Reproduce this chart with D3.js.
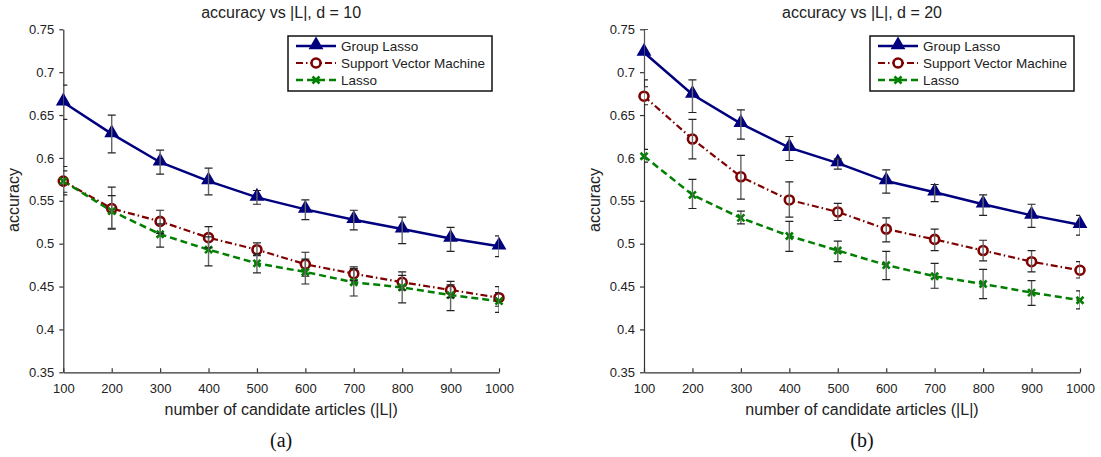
<!DOCTYPE html>
<html>
<head>
<meta charset="utf-8">
<script src="https://cdn.jsdelivr.net/npm/d3@7"></script>
<style>
  body { margin: 0; background: #fff; }
  svg { font-family: "Liberation Sans", Arial, sans-serif; }
</style>
</head>
<body>
<div id="chart"></div>
<script>
var svgWidth = 1101;
var svgHeight = 457;

// candidate set sizes |L|
var sizes = [100, 200, 300, 400, 500, 600, 700, 800, 900, 1000];
var yTicks = [0.35, 0.4, 0.45, 0.5, 0.55, 0.6, 0.65, 0.7, 0.75];
var seriesNames = ["Group Lasso", "Support Vector Machine", "Lasso"];

// panel (a): d = 10
var glMean10 = [0.665, 0.628, 0.595, 0.573, 0.554, 0.540, 0.528, 0.517, 0.506, 0.497];
var glLow10 = [0.645, 0.606, 0.581, 0.557, 0.546, 0.528, 0.516, 0.500, 0.491, 0.485];
var glHigh10 = [0.685, 0.650, 0.609, 0.588, 0.562, 0.551, 0.539, 0.531, 0.519, 0.509];
var svmMean10 = [0.573, 0.541, 0.526, 0.507, 0.493, 0.476, 0.465, 0.455, 0.446, 0.437];
var svmLow10 = [0.557, 0.518, 0.512, 0.495, 0.486, 0.462, 0.457, 0.446, 0.437, 0.427];
var svmHigh10 = [0.590, 0.566, 0.539, 0.520, 0.501, 0.490, 0.473, 0.467, 0.456, 0.450];
var lassoMean10 = [0.573, 0.538, 0.511, 0.493, 0.477, 0.467, 0.455, 0.449, 0.440, 0.433];
var lassoLow10 = [0.560, 0.517, 0.496, 0.474, 0.466, 0.453, 0.439, 0.431, 0.422, 0.420];
var lassoHigh10 = [0.585, 0.556, 0.523, 0.508, 0.488, 0.482, 0.471, 0.463, 0.452, 0.443];

// panel (b): d = 20
var glMean20 = [0.723, 0.674, 0.640, 0.612, 0.594, 0.573, 0.560, 0.546, 0.533, 0.522];
var glLow20 = [0.691, 0.653, 0.622, 0.597, 0.587, 0.559, 0.549, 0.533, 0.519, 0.510];
var glHigh20 = [0.750, 0.691, 0.656, 0.625, 0.599, 0.586, 0.569, 0.557, 0.546, 0.533];
var svmMean20 = [0.672, 0.622, 0.578, 0.551, 0.537, 0.517, 0.505, 0.492, 0.479, 0.469];
var svmLow20 = [0.662, 0.599, 0.552, 0.531, 0.527, 0.502, 0.492, 0.480, 0.467, 0.460];
var svmHigh20 = [0.683, 0.645, 0.603, 0.572, 0.547, 0.530, 0.517, 0.504, 0.492, 0.479];
var lassoMean20 = [0.602, 0.557, 0.530, 0.509, 0.492, 0.475, 0.462, 0.453, 0.443, 0.434];
var lassoLow20 = [0.595, 0.541, 0.523, 0.491, 0.479, 0.458, 0.448, 0.436, 0.428, 0.424];
var lassoHigh20 = [0.610, 0.575, 0.538, 0.526, 0.503, 0.491, 0.477, 0.470, 0.457, 0.445];

var colors = ["#00007f", "#7f0000", "#007f00"];
var dashes = [null, "7,3,1.5,3", "7,4"];
var widths = [2.5, 2.2, 2.5];

var svg = d3.select("#chart")
    .append("svg")
    .attr("width", svgWidth)
    .attr("height", svgHeight);

function zipSeries(means, lows, highs) {
    return sizes.map(function(s, i) {
        return { x: s, y: means[i], lo: lows[i], hi: highs[i] };
    });
}

// marker shapes
function drawMarker(g, kind, cx, cy) {
    if (kind === 0) {
        g.append("path")
            .attr("d", d3.symbol().type(d3.symbolTriangle).size(65)())
            .attr("transform", "translate(" + cx + "," + (cy - 1) + ")")
            .attr("fill", colors[0])
            .attr("stroke", colors[0])
            .attr("stroke-width", 1.5);
    } else if (kind === 1) {
        g.append("circle")
            .attr("cx", cx).attr("cy", cy).attr("r", 4.5)
            .attr("fill", "#fff")
            .attr("stroke", colors[1])
            .attr("stroke-width", 2.6);
    } else {
        g.append("path")
            .attr("d", "M-3.5,-3.5L3.5,3.5M-3.5,3.5L3.5,-3.5")
            .attr("transform", "translate(" + cx + "," + cy + ")")
            .attr("fill", "none")
            .attr("stroke", colors[2])
            .attr("stroke-width", 2.6);
    }
}

function drawPanel(opts) {
    var x = d3.scaleLinear().domain([100, 1000]).range([opts.left, opts.right]);
    var y = d3.scaleLinear().domain([0.35, 0.75]).range([372.3, 29.3]);
    var panel = svg.append("g");

    // clip for error bars (markers are not clipped)
    var clipId = "clip" + opts.id;
    svg.append("clipPath").attr("id", clipId)
        .append("rect")
        .attr("x", opts.left).attr("y", 29.3)
        .attr("width", opts.right - opts.left).attr("height", 343);

    // axes
    var bottomAxis = d3.axisBottom(x).tickValues(sizes).tickSizeInner(-4).tickSizeOuter(0).tickPadding(11)
        .tickFormat(d3.format("d"));
    var leftAxis = d3.axisLeft(y).tickValues(yTicks).tickSizeInner(4).tickSizeOuter(0).tickPadding(5)
        .tickFormat(d3.format("~g"));

    var gx = panel.append("g")
        .attr("transform", "translate(0," + y(0.35) + ")")
        .call(bottomAxis);
    var gy = panel.append("g")
        .attr("transform", "translate(" + opts.left + ",0)")
        .call(leftAxis);
    [gx, gy].forEach(function(a) {
        a.attr("font-family", "Liberation Sans, Arial, sans-serif").attr("font-size", 13);
        a.selectAll("path, line").attr("stroke", "#333").attr("stroke-width", 1.2);
        a.selectAll("text").attr("fill", "#222");
    });

    // lines
    opts.series.forEach(function(data, k) {
        var line = d3.line().x(d => x(d.x)).y(d => y(d.y));
        panel.append("path")
            .datum(data)
            .attr("d", line)
            .attr("fill", "none")
            .attr("stroke", colors[k])
            .attr("stroke-width", widths[k])
            .attr("stroke-dasharray", dashes[k]);
    });

    // markers
    opts.series.forEach(function(data, k) {
        var mg = panel.append("g");
        data.forEach(function(d) { drawMarker(mg, k, x(d.x), y(d.y)); });
    });

    // error bars
    var eb = panel.append("g").attr("clip-path", "url(#" + clipId + ")");
    opts.series.forEach(function(data) {
        data.forEach(function(d) {
            var cx = x(d.x);
            eb.append("line")
                .attr("x1", cx).attr("x2", cx)
                .attr("y1", y(d.hi)).attr("y2", y(d.lo))
                .attr("stroke", "#666").attr("stroke-width", 1.4);
            [d.hi, d.lo].forEach(function(v) {
                eb.append("line")
                    .attr("x1", cx - 4).attr("x2", cx + 4)
                    .attr("y1", y(v)).attr("y2", y(v))
                    .attr("stroke", "#222").attr("stroke-width", 1.2);
            });
        });
    });

    var mid = (opts.left + opts.right) / 2;

    // title
    panel.append("text")
        .attr("x", mid).attr("y", 18)
        .attr("text-anchor", "middle")
        .attr("fill", "#222")
        .style("font-size", "16px")
        .text(opts.title);

    // axis labels
    panel.append("text")
        .attr("x", mid).attr("y", 415)
        .attr("text-anchor", "middle")
        .attr("fill", "#222")
        .style("font-size", "16px")
        .text("number of candidate articles (|L|)");
    panel.append("text")
        .attr("transform", "translate(" + (opts.left - 44) + "," + 200 + ") rotate(-90)")
        .attr("text-anchor", "middle")
        .attr("fill", "#222")
        .style("font-size", "16px")
        .text("accuracy");

    // sub caption
    panel.append("text")
        .attr("x", mid).attr("y", 447)
        .attr("text-anchor", "middle")
        .attr("fill", "#111")
        .style("font-family", "'Liberation Serif', 'Times New Roman', serif")
        .style("font-size", "20px")
        .text(opts.caption);

    // legend
    var lx = opts.legendX, ly = 36;
    var lg = panel.append("g");
    lg.append("rect")
        .attr("x", lx).attr("y", ly)
        .attr("width", 204).attr("height", 55)
        .attr("fill", "#fff")
        .attr("stroke", "#111")
        .attr("stroke-width", 1.5);
    seriesNames.forEach(function(name, k) {
        var ry = ly + 10 + k * 17;
        lg.append("line")
            .attr("x1", lx + 8).attr("x2", lx + 48)
            .attr("y1", ry).attr("y2", ry)
            .attr("stroke", colors[k])
            .attr("stroke-width", widths[k])
            .attr("stroke-dasharray", dashes[k]);
        drawMarker(lg, k, lx + 28, ry);
        lg.append("text")
            .attr("x", lx + 53).attr("y", ry + 5)
            .attr("fill", "#222")
            .style("font-size", "13.5px")
            .text(name);
    });
}

drawPanel({
    id: "a", left: 63.3, right: 499, legendX: 288,
    title: "accuracy vs |L|, d = 10", caption: "(a)",
    series: [zipSeries(glMean10, glLow10, glHigh10),
             zipSeries(svmMean10, svmLow10, svmHigh10),
             zipSeries(lassoMean10, lassoLow10, lassoHigh10)]
});

drawPanel({
    id: "b", left: 644, right: 1080, legendX: 870,
    title: "accuracy vs |L|, d = 20", caption: "(b)",
    series: [zipSeries(glMean20, glLow20, glHigh20),
             zipSeries(svmMean20, svmLow20, svmHigh20),
             zipSeries(lassoMean20, lassoLow20, lassoHigh20)]
});
</script>
</body>
</html>
